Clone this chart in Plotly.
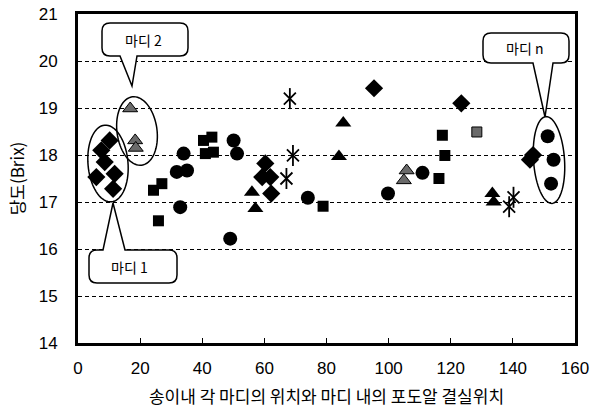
import math
import plotly.graph_objects as go

# ---- data (position of node in cluster vs sugar content, Brix) ----
diamond_x = [5.9, 7.5, 8.6, 10.2, 11.8, 11.3, 59.3, 60.3, 61.9, 62.2, 95.3, 123.4, 145.5, 146.5]
diamond_y = [17.53, 18.1, 17.85, 18.31, 17.6, 17.28, 17.53, 17.82, 17.53, 17.18, 19.42, 19.1, 17.9, 18.0]

square_x = [24.3, 27.0, 25.9, 40.4, 43.1, 41.0, 43.6, 78.9, 116.2, 117.3, 118.1]
square_y = [17.25, 17.39, 16.6, 18.31, 18.38, 18.03, 18.06, 16.91, 17.5, 18.42, 17.99]

triangle_x = [56.0, 57.1, 84.0, 85.4, 133.4, 133.8]
triangle_y = [17.21, 16.86, 17.97, 18.68, 17.18, 17.0]

circle_x = [31.8, 32.9, 34.0, 35.1, 49.0, 50.1, 51.2, 74.0, 99.8, 110.9, 151.2, 152.3, 153.1]
circle_y = [17.64, 16.89, 18.03, 17.67, 16.22, 18.31, 18.03, 17.09, 17.18, 17.62, 18.4, 17.39, 17.9]

star_x = [67.1, 68.2, 69.2, 138.8, 140.2]
star_y = [17.5, 19.2, 17.99, 16.9, 17.1]

hatch_tri_x = [16.8, 18.4, 18.6, 104.9, 105.8]
hatch_tri_y = [18.99, 18.31, 18.15, 17.46, 17.67]

hatch_sq_x = [128.4]
hatch_sq_y = [18.49]

x_ticks = [0, 20, 40, 60, 80, 100, 120, 140, 160]
y_ticks = [14, 15, 16, 17, 18, 19, 20, 21]
x_title = "송이내 각 마디의 위치와 마디 내의 포도알 결실위치"
y_title = "당도(Brix)"
callout_texts = ["마디 1", "마디 2", "마디 n"]

# ---- layout geometry ----
W, H = 592, 415
L, R, T, B = 78, 17, 14, 72
X0, X1 = 0, 160
Y0, Y1 = 14, 21
pw, ph = W - L - R, H - T - B


def dx(px):
    return X0 + (px - L) / pw * (X1 - X0)


def dy(py):
    return Y1 - (py - T) / ph * (Y1 - Y0)


def P(px, py):
    return f"{dx(px):.4f},{dy(py):.4f}"


def ellipse_path(cx, cy, rx, ry, tilt_deg):
    a = math.radians(tilt_deg)
    pts = []
    for i in range(72):
        t = 2 * math.pi * i / 72
        ex, ey = rx * math.cos(t), ry * math.sin(t)
        px = cx + ex * math.cos(a) - ey * math.sin(a)
        py = cy + ex * math.sin(a) + ey * math.cos(a)
        pts.append(P(px, py))
    return "M " + " L ".join(pts) + " Z"


def callout_path(x0, y0, x1, y1, r, ba, bb, tip, side):
    s = f"M {P(x0 + r, y0)} "
    if side == "top":
        s += f"L {P(ba, y0)} L {P(*tip)} L {P(bb, y0)} "
    s += f"L {P(x1 - r, y0)} Q {P(x1, y0)} {P(x1, y0 + r)} "
    s += f"L {P(x1, y1 - r)} Q {P(x1, y1)} {P(x1 - r, y1)} "
    if side == "bottom":
        s += f"L {P(bb, y1)} L {P(*tip)} L {P(ba, y1)} "
    s += f"L {P(x0 + r, y1)} Q {P(x0, y1)} {P(x0, y1 - r)} "
    s += f"L {P(x0, y0 + r)} Q {P(x0, y0)} {P(x0 + r, y0)} Z"
    return s


fig = go.Figure()

mk = dict(color="black", line=dict(width=0))
fig.add_trace(go.Scatter(x=diamond_x, y=diamond_y, mode="markers",
                         marker=dict(symbol="diamond", size=14, **mk)))
fig.add_trace(go.Scatter(x=square_x, y=square_y, mode="markers",
                         marker=dict(symbol="square", size=11, **mk)))
fig.add_trace(go.Scatter(x=triangle_x, y=triangle_y, mode="markers",
                         marker=dict(symbol="triangle-up", size=14, **mk)))
fig.add_trace(go.Scatter(x=circle_x, y=circle_y, mode="markers",
                         marker=dict(symbol="circle", size=14, **mk)))
fig.add_trace(go.Scatter(x=hatch_tri_x, y=hatch_tri_y, mode="markers",
                         marker=dict(symbol="triangle-up", size=13, color="#6a6a6a",
                                     line=dict(width=1, color="black"))))
fig.add_trace(go.Scatter(x=hatch_sq_x, y=hatch_sq_y, mode="markers",
                         marker=dict(symbol="square", size=10, color="#6a6a6a",
                                     line=dict(width=1, color="black"))))
fig.add_trace(go.Scatter(x=star_x, y=star_y, mode="markers",
                         marker=dict(symbol="x-thin-open", size=12, color="black",
                                     line=dict(width=1.8, color="black"))))
fig.add_trace(go.Scatter(x=star_x, y=star_y, mode="markers",
                         marker=dict(symbol="line-ns-open", size=15, color="black",
                                     line=dict(width=1.8, color="black"))))

shapes = []
for cx, cy, rx, ry, tilt in [(108, 163.5, 20, 38.5, -5), (137, 131, 20, 34.5, -8),
                             (549, 160, 15.5, 43.5, -4)]:
    shapes.append(dict(type="path", path=ellipse_path(cx, cy, rx, ry, tilt),
                       line=dict(color="black", width=1.5), fillcolor="rgba(0,0,0,0)",
                       xref="x", yref="y", layer="above"))
callouts = [
    (89, 250, 177, 283, 8, 103, 125, (113, 203), "top", (129, 267)),
    (102, 23, 188, 56, 8, 120, 137, (132, 86), "bottom", (143, 40)),
    (483, 33, 569, 63, 8, 533, 553, (545, 117), "bottom", (524, 48)),
]
annotations = []
for (x0, y0, x1, y1, r, ba, bb, tip, side, tpos), txt in zip(callouts, callout_texts):
    shapes.append(dict(type="path", path=callout_path(x0, y0, x1, y1, r, ba, bb, tip, side),
                       line=dict(color="black", width=1.5), fillcolor="white",
                       xref="x", yref="y", layer="above"))
    annotations.append(dict(x=dx(tpos[0]), y=dy(tpos[1]), xref="x", yref="y", text=txt,
                            showarrow=False,
                            font=dict(family="Noto Sans CJK KR", size=14, color="black")))

fig.update_layout(
    width=W, height=H,
    margin=dict(l=L, r=R, t=T, b=B, autoexpand=False),
    paper_bgcolor="white", plot_bgcolor="white",
    showlegend=False,
    shapes=shapes, annotations=annotations,
    font=dict(family="Liberation Sans", color="black"),
)
fig.update_xaxes(
    range=[X0, X1], tickvals=x_ticks, ticktext=[str(v) for v in x_ticks],
    showgrid=False, zeroline=False,
    showline=True, linecolor="black", linewidth=3, mirror=True,
    ticks="inside", ticklen=5, tickcolor="black", tickwidth=1,
    tickfont=dict(family="Liberation Sans", size=17, color="black"),
    ticklabelstandoff=8, ticklabeloverflow="allow",
    title=dict(text=x_title, standoff=14,
               font=dict(family="Noto Sans CJK KR", size=17, color="black")),
    automargin=False,
)
fig.update_yaxes(
    range=[Y0, Y1], tickvals=y_ticks, ticktext=[str(v) for v in y_ticks],
    showgrid=True, gridcolor="black", gridwidth=1.2, griddash="4px,3px",
    zeroline=False,
    showline=True, linecolor="black", linewidth=3, mirror=True,
    ticks="", tickfont=dict(family="Liberation Sans", size=17, color="black"),
    ticklabelstandoff=14, ticklabeloverflow="allow",
    title=dict(text=y_title, standoff=10,
               font=dict(family="Noto Sans CJK KR", size=17, color="black")),
    automargin=False,
)

fig.write_html("out.html", config={"displayModeBar": False},
               post_script="document.body.style.margin='0px';document.body.style.overflow='hidden';")
